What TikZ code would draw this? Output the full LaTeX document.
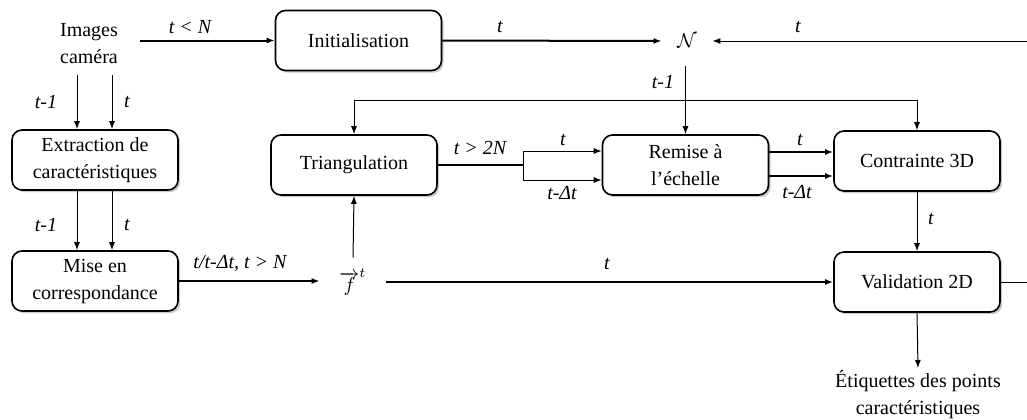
\documentclass[tikz,border=0pt]{standalone}
\usepackage{fontspec}
\setmainfont{Liberation Serif}
\usetikzlibrary{arrows.meta,shadows}
\begin{document}
\begin{tikzpicture}[x=0.5pt,y=-0.5pt, font=\fontsize{10}{13.5}\selectfont,
 box/.style={draw, line width=0.8pt, rounded corners=5pt, minimum width=83pt, minimum height=30pt, align=center, fill=white, inner sep=1pt,
   drop shadow={shadow xshift=1.1pt, shadow yshift=-1.1pt, fill=black!35, opacity=0.6}},
 thinarrow/.style={line width=0.5pt, -{Latex[length=4pt,width=3pt]}},
 thickarrow/.style={line width=1pt, -{Latex[length=4pt,width=3pt]}},
 thinline/.style={line width=0.5pt},
 thickline/.style={line width=1pt},
 lbl/.style={font=\fontsize{10}{12}\selectfont\itshape, inner sep=1pt}]
\useasboundingbox (0,0) rectangle (1027,419);

% nodes
\node[align=center, minimum width=51pt, minimum height=31pt, inner sep=0pt] (img) at (89,44) {Images\\caméra};
\node[box] (init) at (358.5,40.5) {Initialisation};
\node[minimum width=25pt, minimum height=25pt, inner sep=0pt] (N) at (687,41) {$\mathcal{N}$};
\node[box] (ext) at (95,160) {Extraction de\\caractéristiques};
\node[box] (mise) at (95,281) {Mise en\\correspondance};
\node[box] (tri) at (354,165) {Triangulation};
\node[box] (rem) at (685.5,165) {Remise à\\l’échelle};
\node[box] (con) at (917,161) {Contrainte 3D};
\node[box] (val) at (917,282) {Validation 2D};
\node[minimum width=33pt, minimum height=24pt, inner sep=0pt] (f) at (353,282) {$\overrightarrow{f}^{t}$};
\node[anchor=north, align=center, inner sep=1pt] (etq) at (918,368) {Étiquettes des points\\caractéristiques};

\coordinate (rin) at (1027,41);
\coordinate (rout) at (1027,282);
\coordinate (j) at (685,100);
\coordinate (sp) at (523,165);

% top row
\draw[thickarrow] (img.east |- init.west) -- (init.west);
\draw[thickarrow] (init.east) -- (N.west);
\draw[thinarrow] (rin) -- (N.east);
\draw[thinarrow] (N.south -| rem.north) -- (rem.north);
\draw[thinarrow] (j) -| (tri.north);
\draw[thinarrow] (j) -| (con.north);

% left column
\draw[thinarrow] ([xshift=-9pt]ext.north |- img.south) -- ([xshift=-9pt]ext.north);
\draw[thinarrow] ([xshift=8.5pt]ext.north |- img.south) -- ([xshift=8.5pt]ext.north);
\draw[thinarrow] ([xshift=-9pt]ext.south) -- ([xshift=-9pt]mise.north);
\draw[thinarrow] ([xshift=8.5pt]ext.south) -- ([xshift=8.5pt]mise.north);
\draw[thickarrow] (mise.east) -- (f.west |- mise.east);

% middle
\draw[thinarrow] (f.north) -- (tri.south);
\draw[thickarrow] (f.east) -- (val.west);
\draw[thickline] (tri.east) -- (sp);
\draw[thinline] ([yshift=7pt]sp) -- ([yshift=-7.5pt]sp);
\draw[thinarrow] ([yshift=7pt]sp) -- ([yshift=7pt]rem.west);
\draw[thinarrow] ([yshift=-7.5pt]sp) -- ([yshift=-7.5pt]rem.west);
\draw[thickarrow] ([yshift=6.5pt]rem.east) -- ([yshift=6.5pt]rem.east -| con.west);
\draw[thickarrow] ([yshift=-5.5pt]rem.east) -- ([yshift=-5.5pt]rem.east -| con.west);

% right column
\draw[thinarrow] (con.south) -- (val.north);
\draw[thinline] (val.east) -- (rout);
\draw[thinarrow] (val.south) -- (etq.north);

% labels
\node[lbl] (l1) at (190,27) {t < N};
\node[lbl] (l2) at (500,27) {t};
\node[lbl] (l3) at (798,27) {t};
\node[lbl] (l4) at (663,82) {t-1};
\node[lbl] (l5) at (46,102) {t-1};
\node[lbl] (l6) at (127,102) {t};
\node[lbl] (l7) at (46,225) {t-1};
\node[lbl] (l8) at (127,225) {t};
\node[lbl] (l9) at (240,263) {t/t-Δt, t > N};
\node[lbl] (l10) at (480,148) {t > 2N};
\node[lbl] (l11) at (563,140) {t};
\node[lbl] (l12) at (562,193) {t-Δt};
\node[lbl] (l13) at (800,140) {t};
\node[lbl] (l14) at (797,192) {t-Δt};
\node[lbl] (l15) at (931,219) {t};
\node[lbl] (l16) at (607,264) {t};
\end{tikzpicture}
\end{document}
